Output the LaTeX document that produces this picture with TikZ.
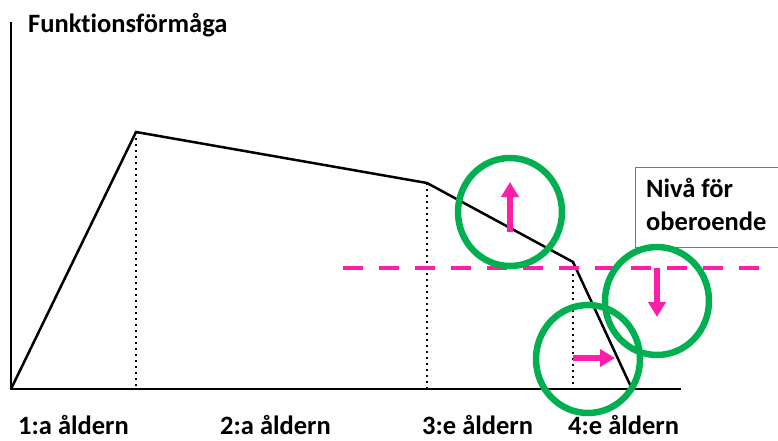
\documentclass[tikz,border=0pt]{standalone}
\usepackage{fontspec}
\setmainfont{Carlito}[Ligatures=NoCommon]
\usetikzlibrary{arrows.meta}
\definecolor{ogreen}{RGB}{0,176,80}
\definecolor{opink}{RGB}{255,30,170}
\definecolor{boxgray}{RGB}{120,120,120}
\begin{document}
\begin{tikzpicture}[x=1pt,y=-1pt,
  lbl/.style={font=\fontsize{26.5}{32}\selectfont\bfseries, inner sep=0pt, anchor=base west},
  axisline/.style={line width=2.5pt, black},
  curveline/.style={line width=2.5pt, black, line join=miter},
  dotline/.style={line width=2pt, dash pattern=on 2pt off 4pt, black},
  levelline/.style={line width=4.5pt, opink, dash pattern=on 20pt off 16pt},
  parrow/.style={line width=6pt, opink, -{Triangle[width=17pt,length=15pt]}},
  gcircle/.style={line width=6.5pt, ogreen},
  levelbox/.style={draw=boxgray, line width=1pt, fill=white}
]
\useasboundingbox (0,0) rectangle (778,441);
% axes
\coordinate (ytop) at (11,22);
\coordinate (origin) at (11,389);
\coordinate (xend) at (681,389);
\draw[axisline] (ytop) -- (origin) -- (xend);
% curve
\coordinate (p1) at (136,132);
\coordinate (p2) at (427,183);
\coordinate (p3) at (573,262);
\coordinate (p4) at (632,389);
\coordinate (b1) at (136,389);
\coordinate (b2) at (427,389);
\coordinate (b3) at (573,389);
\draw[curveline] (origin) -- (p1) -- (p2) -- (p3) -- (p4);
\draw[dotline] (p1) -- (b1);
\draw[dotline] (p2) -- (b2);
\draw[dotline] (p3) -- (b3);
% level line
\coordinate (lvlA) at (343,268);
\coordinate (lvlB) at (760,268);
\draw[levelline] (lvlA) -- (lvlB);
% box
\node[levelbox, minimum width=146pt, minimum height=80pt, anchor=north west] (box) at (635,167) {};
\node[lbl] (niva) at (646,197) {Nivå för};
\node[lbl] (ober) at (646,230) {oberoende};
% arrows
\coordinate (a1s) at (510,232);
\coordinate (a1e) at (510,182);
\coordinate (a2s) at (657,268);
\coordinate (a2e) at (657,317);
\coordinate (a3s) at (573,358);
\coordinate (a3e) at (615,358);
\draw[parrow] (a1s) -- (a1e);
\draw[parrow] (a2s) -- (a2e);
\draw[parrow] (a3s) -- (a3e);
% circles
\coordinate (c1) at (510,212);
\coordinate (c2) at (657,301);
\coordinate (c3) at (588,359);
\draw[gcircle] (c1) ellipse [x radius=52pt, y radius=54pt];
\draw[gcircle] (c2) ellipse [x radius=52pt, y radius=54pt];
\draw[gcircle] (c3) ellipse [x radius=52pt, y radius=54pt];
% labels
\node[lbl] (title) at (28,33) {Funktionsförmåga};
\node[lbl] (age1) at (18,434) {1:a åldern};
\node[lbl] (age2) at (220,434) {2:a åldern};
\node[lbl] (age3) at (422,434) {3:e åldern};
\node[lbl] (age4) at (568,434) {4:e åldern};
\end{tikzpicture}
\end{document}
